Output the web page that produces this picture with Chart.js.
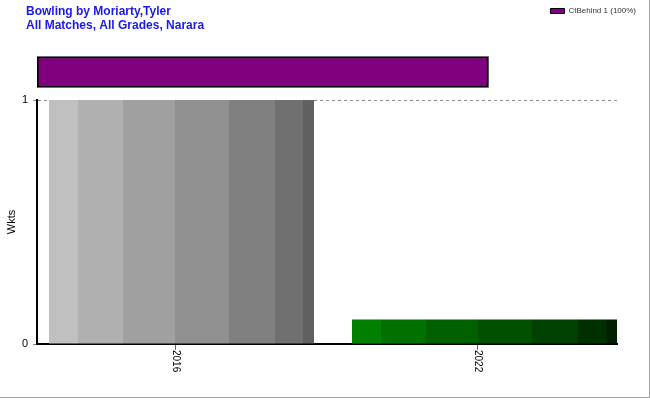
<!DOCTYPE html>
<html><head><meta charset="utf-8">
<script src="https://cdn.jsdelivr.net/npm/chart.js@4/dist/chart.umd.min.js"></script>
<style>
html,body{margin:0;padding:0;background:#fff;}
#wrap{position:relative;width:649px;height:397px;border-right:1px solid #a0a0a0;border-bottom:1px solid #a0a0a0;overflow:hidden;background:#fff}
canvas{position:absolute;left:0;top:0}
</style></head><body>
<div id="wrap"><canvas id="main" width="650" height="400"></canvas><canvas id="top" width="650" height="120"></canvas></div>
<script>
// ---- data ----
const titleLines = ['Bowling by Moriarty,Tyler', 'All Matches, All Grades, Narara'];
const years = ['2016', '2022'];
const wickets = [1, 0.1];
const yearColors = ['#c0c0c0', '#008000'];
const yTicks = [0, 1];
const dismissalTypes = ['CtBehind 1'];
const dismissalShares = [100];
const dismissalColors = ['#800080'];

// ---- style ----
const FONT = 'Liberation Sans, Arial, sans-serif';
const bandEdges = [0, 0.108, 0.28, 0.477, 0.68, 0.853, 0.957, 1];
const labelShift = -7;

function shade(hex, k) {
  const n = parseInt(hex.slice(1), 16);
  const r = Math.max(0, ((n >> 16) & 255) - 16 * k);
  const g = Math.max(0, ((n >> 8) & 255) - 16 * k);
  const b = Math.max(0, (n & 255) - 16 * k);
  return 'rgb(' + r + ',' + g + ',' + b + ')';
}

const bandPlugin = {
  id: 'bands',
  beforeDatasetsDraw(chart) {
    const ctx = chart.ctx;
    chart.data.datasets.forEach((ds, di) => {
      const meta = chart.getDatasetMeta(di);
      meta.data.forEach((el, i) => {
        const p = el.getProps(['x', 'width'], true);
        const x0 = p.x - p.width / 2, x1 = p.x + p.width / 2;
        const g = ctx.createLinearGradient(x0, 0, x1, 0);
        for (let k = 0; k < bandEdges.length - 1; k++) {
          const c = shade(yearColors[i], k);
          g.addColorStop(bandEdges[k], c);
          g.addColorStop(bandEdges[k + 1], c);
        }
        if (Object.isFrozen(el.options)) el.options = Object.assign({}, el.options);
        el.options.backgroundColor = g;
      });
    });
  }
};

const yearLabelPlugin = {
  id: 'yearLabels',
  afterDraw(chart) {
    const ctx = chart.ctx;
    const xs = chart.scales.x;
    const bottom = chart.chartArea.bottom;
    ctx.save();
    years.forEach((lab, i) => {
      const x = Math.round(xs.getPixelForValue(i) + labelShift) + 0.5;
      ctx.strokeStyle = '#666';
      ctx.lineWidth = 1;
      ctx.beginPath();
      ctx.moveTo(x, bottom + 1);
      ctx.lineTo(x, bottom + 6);
      ctx.stroke();
      ctx.save();
      ctx.translate(x, bottom + 6);
      ctx.rotate(Math.PI / 2);
      ctx.fillStyle = '#000';
      ctx.font = '10px ' + FONT;
      ctx.textAlign = 'left';
      ctx.textBaseline = 'middle';
      ctx.fillText(lab, 0, 0);
      ctx.restore();
    });
    ctx.restore();
  }
};

new Chart(document.getElementById('main'), {
  type: 'bar',
  data: {
    datasets: [{
      label: 'Wkts',
      data: wickets.map((v, i) => ({ x: i, y: v })),
      backgroundColor: (c) => yearColors[c.dataIndex % yearColors.length],
      borderWidth: 0,
      barPercentage: 0.8746,
      categoryPercentage: 1
    }]
  },
  options: {
    responsive: false,
    animation: false,
    events: [],
    layout: { padding: { left: 0, right: 33, top: 100, bottom: 0 } },
    plugins: {
      legend: { display: false },
      tooltip: { enabled: false },
      title: { display: false }
    },
    scales: {
      x: {
        type: 'linear',
        offset: false,
        bounds: 'data',
        min: -0.4769,
        max: 1.4373,
        afterBuildTicks: (s) => { s.ticks = years.map((y, i) => ({ value: i })); },
        afterFit: (s) => { s.height = 56; },
        ticks: { display: false },
        grid: { display: false, offset: false },
        border: { display: true, color: '#000', width: 2 }
      },
      y: {
        min: 0,
        max: 1,
        afterBuildTicks: (s) => { s.ticks = yTicks.map(v => ({ value: v })); },
        afterFit: (s) => { s.width = 37; },
        ticks: { color: '#000', font: { family: FONT, size: 11 }, padding: 5 },
        grid: { color: '#888', lineWidth: 1, tickLength: 4 },
        border: { display: true, color: '#000', width: 2, dash: [3, 3] },
        title: {
          display: true,
          text: 'Wkts',
          color: '#000',
          font: { family: FONT, size: 11 },
          padding: { top: 5, bottom: 0 }
        }
      }
    }
  },
  plugins: [bandPlugin, yearLabelPlugin]
});

new Chart(document.getElementById('top'), {
  type: 'bar',
  data: {
    labels: dismissalTypes,
    datasets: [{
      label: dismissalTypes[0] + ' (' + dismissalShares[0] + '%)',
      data: dismissalShares,
      backgroundColor: dismissalColors,
      borderColor: '#000',
      borderWidth: 2,
      borderSkipped: false,
      barThickness: 31
    }]
  },
  options: {
    indexAxis: 'y',
    responsive: false,
    animation: false,
    events: [],
    layout: { padding: { left: 26, right: 8, top: 1, bottom: 1 } },
    plugins: {
      tooltip: { enabled: false },
      title: {
        display: true,
        text: titleLines,
        align: 'start',
        color: '#1a1ae6',
        font: { family: FONT, size: 12, weight: 'bold', lineHeight: '14px' },
        padding: { top: 4, bottom: -32 }
      },
      legend: {
        display: true,
        position: 'top',
        align: 'end',
        labels: {
          color: '#333',
          font: { family: FONT, size: 8 },
          boxWidth: 14,
          boxHeight: 5,
          padding: 6,
          generateLabels: (chart) => Chart.defaults.plugins.legend.labels.generateLabels(chart).map(l => Object.assign(l, { lineWidth: 1 }))
        }
      }
    },
    scales: {
      x: { display: false, min: 0, max: 134 },
      y: {
        display: true,
        afterFit: (s) => { s.width = 11; },
        ticks: { display: false },
        grid: { display: false },
        border: { display: false }
      }
    }
  }
});
</script>
</body></html>
